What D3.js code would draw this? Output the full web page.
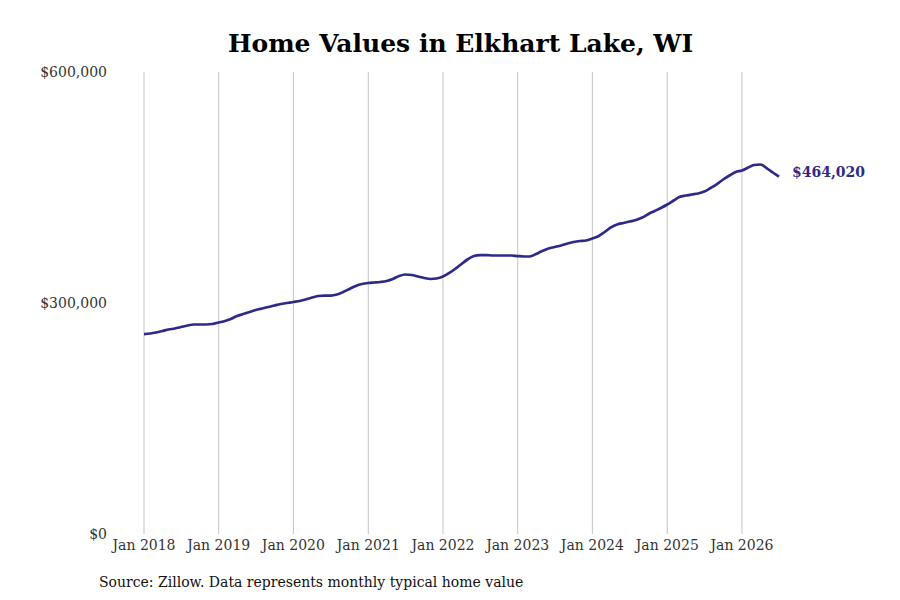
<!DOCTYPE html>
<html>
<head>
<meta charset="utf-8">
<script src="https://cdn.jsdelivr.net/npm/d3@7"></script>
<style>
  body { margin: 0; background: #fff; }
  svg text { font-family: "DejaVu Serif", serif; }
</style>
</head>
<body>
<svg id="chart" width="900" height="600"></svg>
<script>
// monthly typical home value, Jan 2018 .. Jul 2026 (thousands of dollars)
var startMonth = "2018-01";
var values = [
  259.7, 260.4, 261.7, 263.6, 265.6, 266.9, 268.8, 270.8, 272.1, 272.1, 272.1, 272.7,
  274.7, 276.6, 279.2, 283.1, 285.7, 288.3, 290.9, 292.9, 294.8, 296.8, 298.7, 300.0,
  301.3, 302.6, 304.5, 307.1, 309.1, 309.7, 309.7, 311.0, 314.3, 318.2, 322.1, 324.7,
  326.0, 326.6, 327.3, 328.6, 331.2, 335.1, 337.0, 336.4, 334.4, 332.5, 331.2, 331.8,
  334.4, 339.0, 344.2, 350.6, 356.5, 361.0, 362.3, 362.3, 361.7, 361.7, 361.7, 361.7,
  361.0, 360.4, 360.4, 363.6, 367.5, 370.8, 372.7, 374.7, 377.3, 379.2, 380.5, 381.2,
  383.8, 387.0, 392.2, 398.1, 401.9, 403.9, 405.8, 407.8, 411.0, 415.6, 419.5, 423.4,
  427.9, 433.1, 437.7, 439.6, 440.9, 442.2, 444.8, 449.4, 454.5, 460.4, 465.6, 470.1,
  472.1, 476.0, 479.2, 479.9, 475.3, 469.5, 464.02
];
var yTicks = [0, 300000, 600000];
var xTickYears = [2018, 2019, 2020, 2021, 2022, 2023, 2024, 2025, 2026];
var title = "Home Values in Elkhart Lake, WI";
var source = "Source: Zillow. Data represents monthly typical home value";

var lineColor = "#2e2a87";
var parse = d3.timeParse("%Y-%m");
var t0 = parse(startMonth);
var data = values.map(function (v, i) {
    return { date: d3.timeMonth.offset(t0, i), value: Math.round(v * 1000) };
});
var last = data[data.length - 1];

var svg = d3.select("#chart");
var x = d3.scaleTime()
    .domain([t0, last.date])
    .range([144, 779]);
var y = d3.scaleLinear()
    .domain([0, 600000])
    .range([534, 72]);

svg.append("text")
    .attr("x", 460.5).attr("y", 52)
    .attr("text-anchor", "middle")
    .style("font-size", "25px").style("font-weight", "bold")
    .text(title);

// vertical grid lines + x labels
var xt = svg.append("g").selectAll("g")
    .data(xTickYears)
    .enter().append("g")
    .attr("transform", function (d) { return "translate(" + x(new Date(d, 0, 1)) + ",0)"; });
xt.append("line")
    .attr("y1", 72).attr("y2", 534)
    .style("stroke", "#c4c4c4").style("stroke-width", 1);
xt.append("text")
    .attr("y", 550)
    .attr("text-anchor", "middle")
    .style("font-size", "14px").style("fill", "#333")
    .text(function (d) { return "Jan " + d; });

var fmt = d3.format("$,.0f");
svg.append("g").selectAll("text")
    .data(yTicks)
    .enter().append("text")
    .attr("x", 107).attr("y", function (d) { return y(d) + 5; })
    .attr("text-anchor", "end")
    .style("font-size", "14px").style("fill", "#333")
    .text(function (d) { return fmt(d); });

var line = d3.line()
    .x(function (d) { return x(d.date); })
    .y(function (d) { return y(d.value); })
    .curve(d3.curveMonotoneX);
svg.append("path")
    .datum(data)
    .attr("d", line)
    .style("fill", "none")
    .style("stroke", lineColor)
    .style("stroke-width", 2.7)
    .style("stroke-linejoin", "round");

svg.append("text")
    .attr("x", x(last.date) + 13).attr("y", y(464020) + 0)
    .style("font-size", "14px").style("font-weight", "bold")
    .style("fill", lineColor)
    .text(fmt(464020));

svg.append("text")
    .attr("x", 99).attr("y", 587)
    .style("font-size", "14px").style("fill", "#111")
    .text(source);
</script>
</body>
</html>
